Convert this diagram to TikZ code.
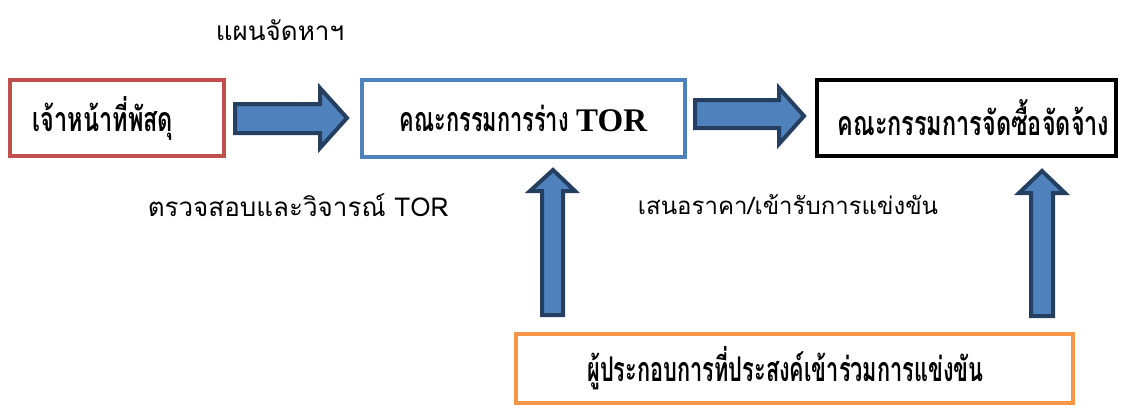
\documentclass[tikz,border=0pt]{standalone}
\usepackage{fontspec}
\newfontfamily\thai[Script=Thai]{Loma}
\newfontfamily\thaicond[Script=Thai,FakeStretch=0.64]{Loma}
\newfontfamily\thaiwide[Script=Thai,FakeStretch=0.69]{Loma}
\newfontfamily\tnr{Liberation Serif}
\definecolor{boxred}{HTML}{C0504D}
\definecolor{boxblue}{HTML}{4F81BD}
\definecolor{boxorange}{HTML}{F79646}
\definecolor{arrowfill}{HTML}{4F81BD}
\definecolor{arrowline}{HTML}{243F60}
\tikzset{
  stagebox/.style={draw, line width=4pt, fill=white, inner sep=0pt, font=\thaicond\bfseries\fontsize{34}{38}\selectfont},
  blockarrow/.style={draw=arrowline, fill=arrowfill, line width=4pt, line join=miter},
  lbl/.style={font=\thai\fontsize{26}{30}\selectfont, inner sep=0pt}
}
\begin{document}
\begin{tikzpicture}[x=1pt,y=-1pt]
\useasboundingbox (0,0) rectangle (1126,407);
% boxes
\node[stagebox, draw=boxred, minimum width=214pt, minimum height=76pt, font=\thaiwide\bfseries\fontsize{34}{38}\selectfont] (b1) at (117,118) {\hspace*{-28pt}เจ้าหน้าที่พัสดุ};
\node[stagebox, draw=boxblue, minimum width=323pt, minimum height=77pt] (b2) at (523.5,118.5) {คณะกรรมการร่าง {\tnr\bfseries\fontsize{33}{38}\selectfont TOR}};
\node[stagebox, draw=black, minimum width=299pt, minimum height=76pt, font=\thaiwide\bfseries\fontsize{34}{38}\selectfont] (b3) at (966.5,118) {\hspace*{14pt}คณะกรรมการจัดซื้อจัดจ้าง};
\node[stagebox, draw=boxorange, minimum width=557pt, minimum height=69pt] (b4) at (794.5,368.5) {\hspace*{-18pt}ผู้ประกอบการที่ประสงค์เข้าร่วมการแข่งขัน};
% block arrows
\draw[blockarrow] (235,104) -- (320,104) -- (320,88) -- (347,118) -- (320,148) -- (320,133) -- (235,133) -- cycle;
\draw[blockarrow] (695,100) -- (779,100) -- (779,88) -- (804,116) -- (779,144) -- (779,128) -- (695,128) -- cycle;
\draw[blockarrow] (542,315) -- (542,191) -- (530,191) -- (553,170) -- (575,191) -- (563,191) -- (563,315) -- cycle;
\draw[blockarrow] (1031,316) -- (1031,193) -- (1019,193) -- (1042,171) -- (1065,193) -- (1053,193) -- (1053,316) -- cycle;
% labels
\node[lbl] (l1) at (280,30) {แผนจัดหาฯ};
\node[lbl] (l2) at (298,205) {ตรวจสอบและวิจารณ์ TOR};
\node[lbl, font=\thai\fontsize{24}{28}\selectfont] (l3) at (788,205) {เสนอราคา/เข้ารับการแข่งขัน};
\end{tikzpicture}
\end{document}
